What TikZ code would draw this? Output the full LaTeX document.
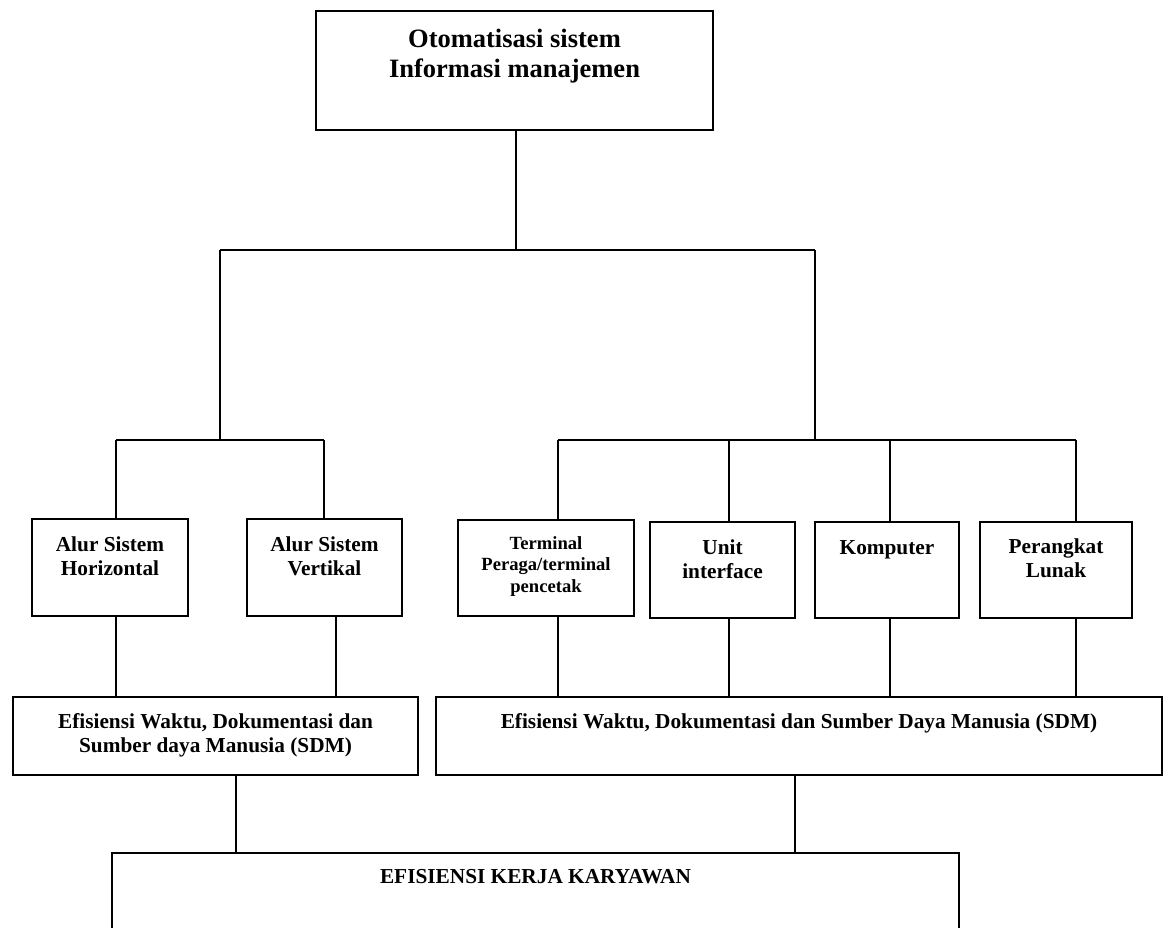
\documentclass[tikz,border=0pt]{standalone}
\usepackage{fontspec}
\setmainfont{Liberation Serif}
\begin{document}
\begin{tikzpicture}[x=1pt,y=-1pt,
  box/.style={draw, line width=1.9pt, inner sep=0pt},
  link/.style={line width=1.5pt},
  txt/.style={anchor=base, align=center, inner sep=0pt, font=\bfseries\fontsize{21.3}{24}\selectfont},
  bigtxt/.style={txt, font=\bfseries\fontsize{26.5}{30}\selectfont},
  smalltxt/.style={txt, font=\bfseries\fontsize{18.6}{21.5}\selectfont}]
\useasboundingbox (0,0) rectangle (1166,927);
\clip (0,0) rectangle (1166,927);

% boxes
\node[box, minimum width=397pt, minimum height=119pt] (top) at (514.5,70.5) {};
\node[box, minimum width=156pt, minimum height=97pt] (horz) at (110,567.5) {};
\node[box, minimum width=155pt, minimum height=97pt] (vert) at (324.5,567.5) {};
\node[box, minimum width=176pt, minimum height=96pt] (term) at (546,568) {};
\node[box, minimum width=145pt, minimum height=96pt] (unit) at (722.5,570) {};
\node[box, minimum width=144pt, minimum height=96pt] (komp) at (887,570) {};
\node[box, minimum width=152pt, minimum height=96pt] (lunak) at (1056,570) {};
\node[box, minimum width=405pt, minimum height=78pt] (effL) at (215.5,736) {};
\node[box, minimum width=726pt, minimum height=78pt] (effR) at (799,736) {};
\node[box, minimum width=847pt, minimum height=100pt] (kerja) at (535.5,903) {};

% labels (base = baseline of the last line)
\node[bigtxt] (tTop) at (514.5,77) {Otomatisasi sistem\\Informasi manajemen};
\node[txt] (tHorz) at (110,575) {Alur Sistem\\Horizontal};
\node[txt] (tVert) at (324.5,575) {Alur Sistem\\Vertikal};
\node[smalltxt] (tTerm) at (546,592) {Terminal\\Peraga/terminal\\pencetak};
\node[txt] (tUnit) at (722.5,578) {Unit\\interface};
\node[txt] (tKomp) at (887,554) {Komputer};
\node[txt] (tLunak) at (1056,577) {Perangkat\\Lunak};
\node[txt] (tEffL) at (215.5,752) {Efisiensi Waktu, Dokumentasi dan\\Sumber daya Manusia (SDM)};
\node[txt] (tEffR) at (799,728) {Efisiensi Waktu, Dokumentasi dan Sumber Daya Manusia (SDM)};
\node[txt] (tKerja) at (535.5,883) {EFISIENSI KERJA KARYAWAN};

% junction points
\coordinate (j0) at (516,250);
\coordinate (jL) at (220,250);
\coordinate (jR) at (815,250);
\coordinate (bL) at (220,440);
\coordinate (bR) at (815,440);
\coordinate (bH) at (116,440);
\coordinate (bV) at (324,440);
\coordinate (bT) at (558,440);
\coordinate (bU) at (729,440);
\coordinate (bK) at (890,440);
\coordinate (bP) at (1076,440);

% main trunk
\draw[link] (top.south -| j0) -- (j0);
\draw[link] (jL) -- (jR);
\draw[link] (jL) -- (bL);
\draw[link] (jR) -- (bR);

% left group
\draw[link] (bH) -- (bV);
\draw[link] (bH) -- (bH |- horz.north);
\draw[link] (bV) -- (bV |- vert.north);

% right group
\draw[link] (bT) -- (bP);
\draw[link] (bT) -- (bT |- term.north);
\draw[link] (bU) -- (bU |- unit.north);
\draw[link] (bK) -- (bK |- komp.north);
\draw[link] (bP) -- (bP |- lunak.north);

% down to the efficiency boxes
\draw[link] (horz.south -| bH) -- (effL.north -| bH);
\draw[link] (vert.south -| 336,0) -- (effL.north -| 336,0);
\draw[link] (term.south -| bT) -- (effR.north -| bT);
\draw[link] (unit.south -| bU) -- (effR.north -| bU);
\draw[link] (komp.south -| bK) -- (effR.north -| bK);
\draw[link] (lunak.south -| bP) -- (effR.north -| bP);

% down to the final box
\draw[link] (effL.south -| 236,0) -- (kerja.north -| 236,0);
\draw[link] (effR.south -| 795,0) -- (kerja.north -| 795,0);
\end{tikzpicture}
\end{document}
